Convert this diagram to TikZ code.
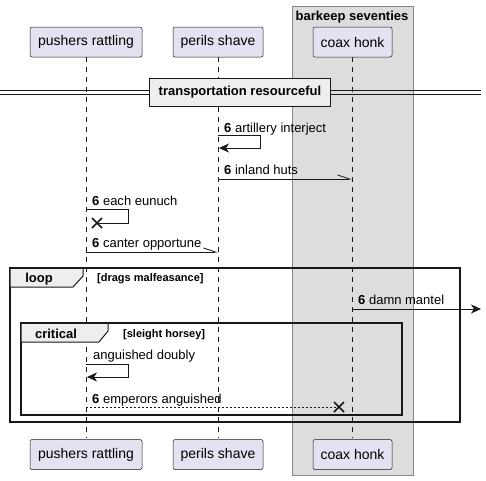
\documentclass[tikz,border=0pt]{standalone}
\usepackage{fontspec}
\setmainfont{Liberation Sans}
\usetikzlibrary{arrows.meta,calc}
\definecolor{partfill}{HTML}{E2E2F0}
\definecolor{partdraw}{HTML}{181818}
\definecolor{boxfill}{HTML}{DDDDDD}
\definecolor{boxdraw}{HTML}{888888}
\definecolor{tabfill}{HTML}{EEEEEE}
\definecolor{ink}{HTML}{181818}
\tikzset{
  part/.style={draw=partdraw, fill=partfill, rounded corners=2pt, line width=0.5pt, font=\fontsize{14}{16}\selectfont, inner sep=0pt, minimum height=30pt},
  life/.style={draw=ink, dash pattern=on 5pt off 5pt, line width=0.5pt},
  msg/.style={draw=ink, line width=0.8pt},
  lbl/.style={font=\fontsize{13}{15}\selectfont, inner sep=0pt, anchor=base west, text=black},
  hd/.style={-{Stealth[length=10pt,width=9pt,inset=3pt]}},
  harp/.style={-{Straight Barb[harpoon,length=12pt,width=8pt,line width=0.8pt]}},
  frm/.style={draw=ink, line width=1.5pt},
  tabtxt/.style={font=\bfseries\fontsize{13}{15}\selectfont, inner sep=0pt, anchor=base},
  cond/.style={font=\bfseries\fontsize{11}{13}\selectfont, inner sep=0pt, anchor=base west},
  xmark/.style={draw=ink, line width=1.5pt},
}
\begin{document}
\begin{tikzpicture}[x=1pt,y=-1pt]
\useasboundingbox (0,0) rectangle (486,480);
% group box
\draw[fill=boxfill, draw=boxdraw, line width=1pt] (292,6) rectangle (413,475);
\node[font=\bfseries\fontsize{13}{15}\selectfont, inner sep=0pt, anchor=base] (boxt) at (352,20) {barkeep seventies};
% lifelines
\coordinate (l1t) at (86,57); \coordinate (l1b) at (86,438);
\coordinate (l2t) at (218,57); \coordinate (l2b) at (218,438);
\coordinate (l3t) at (352,57); \coordinate (l3b) at (352,438);
\draw[life] (l1t) -- (l1b);
\draw[life] (l2t) -- (l2b);
\draw[life] (l3t) -- (l3b);
% participants
\node[part, minimum width=112pt] (p1) at (86,42) {pushers rattling};
\node[part, minimum width=90pt] (p2) at (218,42) {perils shave};
\node[part, minimum width=79pt] (p3) at (352.5,42) {coax honk};
\node[part, minimum width=112pt] (q1) at (86,454.5) {pushers rattling};
\node[part, minimum width=90pt] (q2) at (218,454.5) {perils shave};
\node[part, minimum width=79pt] (q3) at (352.5,454.5) {coax honk};
% divider
\coordinate (dl) at (0,90.5); \coordinate (dr) at (481,90.5);
\coordinate (dl2) at (0,94); \coordinate (dr2) at (481,94);
\draw[ink, line width=0.8pt] (dl) -- (dr);
\draw[ink, line width=0.8pt] (dl2) -- (dr2);
\node[draw=ink, line width=1.8pt, fill=tabfill, minimum width=181pt, minimum height=28pt, inner sep=0pt, font=\bfseries\fontsize{13}{15}\selectfont] (div) at (240,92.5) {transportation resourceful};
% msg 1 self on perils
\node[lbl] (m1) at (224,132) {\textbf{6} artillery interject};
\coordinate (a1) at (218,135); \coordinate (a2) at (260,135); \coordinate (a3) at (260,148); \coordinate (a4) at (219,148);
\draw[msg, hd] (a1) -- (a2) -- (a3) -- (a4);
% msg 2
\node[lbl] (m2) at (224,174) {\textbf{6} inland huts};
\coordinate (b1) at (218,179); \coordinate (b2) at (352,179);
\draw[msg, harp] (b1) -- (b2);
% msg 3 self on pushers with X
\node[lbl] (m3) at (92,205) {\textbf{6} each eunuch};
\coordinate (c1) at (86,209); \coordinate (c2) at (128,209); \coordinate (c3) at (128,223); \coordinate (c4) at (97,223);
\draw[msg] (c1) -- (c2) -- (c3) -- (c4);
\draw[xmark] ($(c4)+(-5,-5)$) -- ++(10,10) ($(c4)+(-5,5)$) -- ++(10,-10);
% msg 4
\node[lbl] (m4) at (92,247) {\textbf{6} canter opportune};
\coordinate (d1) at (86,252); \coordinate (d2) at (218,252);
\draw[msg, harp] (d1) -- (d2);
% loop frame
\draw[frm] (10,268) rectangle (460,422);
\draw[ink, line width=1pt, fill=tabfill] (10,268) -- (83,268) -- (83,276) -- (73,287) -- (10,287) -- cycle;
\draw[frm] (10,268) -- (460,268);
\node[tabtxt] (lt) at (39,282) {loop};
\node[cond] (lc) at (97,281) {[drags malfeasance]};
% damn mantel
\node[lbl] (m5) at (358,304) {\textbf{6} damn mantel};
\coordinate (e1) at (352,309); \coordinate (e2) at (481,309);
\draw[msg, hd] (e1) -- (e2);
% critical frame
\draw[frm] (21,323) rectangle (402,415);
\draw[ink, line width=1pt, fill=tabfill] (21,323) -- (108,323) -- (108,331) -- (99,342) -- (21,342) -- cycle;
\draw[frm] (21,323) -- (402,323);
\node[tabtxt] (ct) at (56,338) {critical};
\node[cond] (cc) at (123,337) {[sleight horsey]};
% anguished doubly
\node[lbl] (m6) at (93,359) {anguished doubly};
\coordinate (f1) at (86,364); \coordinate (f2) at (128,364); \coordinate (f3) at (128,377); \coordinate (f4) at (87,377);
\draw[msg, hd] (f1) -- (f2) -- (f3) -- (f4);
% emperors anguished
\node[lbl] (m7) at (92,403) {\textbf{6} emperors anguished};
\coordinate (g1) at (86,407); \coordinate (g2) at (339,407);
\draw[ink, line width=0.8pt, dash pattern=on 2pt off 2pt] (g1) -- (g2);
\draw[xmark] ($(g2)+(-5,-5)$) -- ++(10,10) ($(g2)+(-5,5)$) -- ++(10,-10);
\end{tikzpicture}
\end{document}
